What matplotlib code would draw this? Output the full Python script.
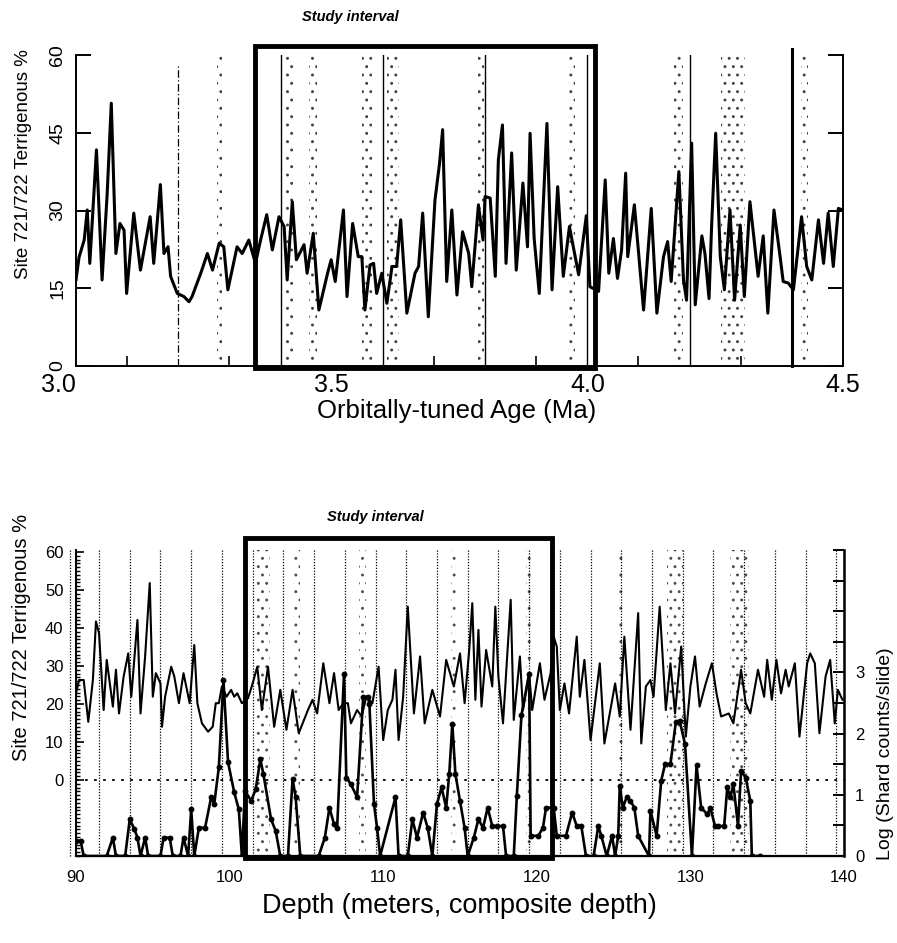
import matplotlib
matplotlib.use('Agg')
import matplotlib.pyplot as plt
import matplotlib.transforms as mtransforms
from matplotlib.patches import Rectangle
import numpy as np

plt.rcParams['font.family'] = ['Liberation Sans', 'DejaVu Sans']
plt.rcParams['hatch.linewidth'] = 0.9

# ---------------- data: top panel (age domain) ----------------
top_age = [3.000, 3.006, 3.016, 3.022, 3.027, 3.040, 3.051, 3.061, 3.069, 3.078,
           3.086, 3.094, 3.099, 3.113, 3.126, 3.145, 3.152, 3.165, 3.172, 3.180,
           3.185, 3.198, 3.211, 3.221, 3.227, 3.244, 3.257, 3.267, 3.280, 3.289,
           3.297, 3.315, 3.325, 3.338, 3.351, 3.361, 3.373, 3.384, 3.397, 3.407,
           3.413, 3.423, 3.431, 3.446, 3.452, 3.464, 3.475, 3.492, 3.499, 3.507,
           3.523, 3.530, 3.541, 3.552, 3.559, 3.565, 3.575, 3.582, 3.588, 3.598,
           3.608, 3.618, 3.627, 3.635, 3.647, 3.663, 3.670, 3.678, 3.689, 3.702,
           3.711, 3.717, 3.725, 3.735, 3.745, 3.756, 3.768, 3.774, 3.787, 3.796,
           3.800, 3.810, 3.820, 3.826, 3.834, 3.841, 3.852, 3.861, 3.874, 3.883,
           3.888, 3.896, 3.906, 3.921, 3.931, 3.942, 3.953, 3.965, 3.983, 3.998,
           4.005, 4.022, 4.035, 4.042, 4.051, 4.059, 4.067, 4.075, 4.079, 4.092,
           4.110, 4.125, 4.136, 4.149, 4.157, 4.164, 4.179, 4.188, 4.194, 4.204,
           4.211, 4.224, 4.230, 4.238, 4.243, 4.251, 4.260, 4.268, 4.279, 4.288,
           4.299, 4.307, 4.318, 4.334, 4.344, 4.353, 4.365, 4.377, 4.383, 4.393,
           4.403, 4.419, 4.429, 4.439, 4.452, 4.462, 4.471, 4.481, 4.491, 4.499]
top_terr = [16.6, 21.0, 24.3, 30.1, 19.8, 41.7, 16.6, 33.3, 50.7, 21.7,
            27.5, 26.2, 14.0, 29.5, 18.5, 28.8, 19.8, 35.0, 21.7, 23.0,
            17.3, 14.0, 13.4, 12.4, 13.4, 17.9, 21.7, 18.5, 23.7, 23.0,
            14.7, 23.0, 21.7, 24.3, 19.8, 24.3, 29.2, 22.4, 28.8, 26.9,
            16.6, 31.7, 20.5, 23.4, 17.9, 25.6, 10.8, 17.9, 20.5, 16.3,
            30.1, 13.4, 27.5, 21.1, 21.1, 10.8, 19.5, 19.8, 14.0, 17.9,
            12.1, 19.2, 19.2, 28.2, 10.2, 17.9, 19.2, 29.5, 9.5, 32.0,
            39.1, 45.6, 16.3, 30.1, 13.7, 25.9, 21.7, 15.3, 31.1, 24.3,
            32.7, 32.4, 17.3, 39.8, 46.5, 19.8, 41.1, 18.5, 35.3, 23.0,
            44.9, 24.6, 14.0, 46.8, 14.7, 34.6, 17.3, 26.9, 17.6, 29.0,
            15.3, 14.4, 35.9, 17.9, 24.6, 16.9, 22.4, 37.2, 21.1, 31.1,
            10.8, 30.4, 10.2, 21.1, 24.0, 16.3, 37.5, 16.6, 12.7, 43.0,
            11.8, 25.1, 21.7, 13.0, 26.9, 44.9, 21.1, 14.7, 30.1, 12.7,
            27.2, 13.4, 31.7, 17.3, 25.1, 10.2, 30.1, 21.1, 16.3, 16.0,
            14.7, 28.8, 19.2, 16.6, 28.2, 19.8, 29.5, 19.2, 30.4, 30.1]
top_xticks = [3.0, 3.5, 4.0, 4.5]
top_xticklabels = ['3.0', '3.5', '4.0', '4.5']
top_yticks = [0, 15, 30, 45, 60]
top_timelines = [3.4, 3.6, 3.8, 4.0, 4.2]
top_tephra = [(3.275, 3.285), (3.408, 3.425), (3.455, 3.472), (3.560, 3.578),
              (3.608, 3.632), (3.786, 3.798), (3.962, 3.975), (4.170, 4.188),
              (4.262, 4.308), (4.418, 4.432)]
top_study = (3.35, 4.015)

# ---------------- data: bottom panel (depth domain) ----------------
bot_depth = [90.0, 90.2, 90.5, 90.8, 91.1, 91.3, 91.5, 91.8, 92.0, 92.4,
             92.6, 92.8, 93.1, 93.4, 93.6, 94.0, 94.2, 94.5, 94.8, 95.0,
             95.2, 95.5, 95.6, 95.8, 96.2, 96.4, 96.7, 97.0, 97.4, 97.7,
             97.9, 98.2, 98.6, 98.9, 99.1, 99.3, 99.5, 99.8, 100.1, 100.3,
             100.5, 100.8, 101.2, 101.5, 101.8, 102.1, 102.5, 102.9, 103.3, 103.7,
             104.1, 104.5, 105.1, 105.4, 105.7, 106.1, 106.5, 106.8, 107.1, 107.4,
             107.7, 107.9, 108.3, 108.6, 108.9, 109.3, 109.7, 110.0, 110.3, 110.6,
             110.8, 111.0, 111.3, 111.6, 112.0, 112.4, 112.7, 113.2, 113.7, 114.1,
             114.6, 115.0, 115.3, 115.6, 115.8, 116.0, 116.2, 116.4, 116.7, 117.1,
             117.3, 117.5, 117.8, 118.3, 118.5, 118.9, 119.1, 119.5, 119.7, 120.2,
             120.5, 120.9, 121.1, 121.3, 121.5, 121.8, 122.1, 122.6, 122.8, 123.1,
             123.5, 124.1, 124.4, 125.1, 125.4, 125.7, 126.1, 126.6, 126.8, 127.1,
             127.4, 127.6, 128.0, 128.4, 128.7, 129.0, 129.4, 129.7, 130.0, 130.3,
             130.6, 131.0, 131.4, 131.7, 132.0, 132.5, 132.8, 133.3, 133.6, 133.9,
             134.4, 134.8, 135.0, 135.3, 135.6, 135.9, 136.2, 136.4, 136.8, 137.1,
             137.6, 137.8, 138.1, 138.4, 138.8, 139.1, 139.4, 139.6, 139.9]
bot_terr = [22.8, 26.3, 26.3, 15.3, 26.3, 41.7, 38.6, 18.4, 31.6, 19.3,
            29.0, 17.5, 27.2, 33.3, 21.9, 42.1, 17.5, 32.5, 51.8, 21.9,
            28.1, 25.4, 14.0, 21.9, 29.8, 27.2, 20.2, 28.1, 20.2, 35.5,
            20.2, 14.9, 12.7, 14.0, 20.2, 20.2, 24.6, 21.9, 23.7, 21.9,
            22.8, 20.2, 21.5, 25.4, 29.8, 18.4, 29.8, 14.0, 23.7, 13.2,
            23.7, 12.3, 18.4, 21.1, 17.5, 30.7, 20.2, 28.1, 18.4, 20.2,
            20.2, 14.9, 18.4, 16.7, 21.9, 20.2, 29.8, 10.5, 18.4, 21.1,
            29.0, 10.5, 21.9, 45.6, 17.5, 32.5, 14.9, 23.7, 16.7, 31.6,
            24.6, 33.3, 20.2, 34.2, 46.5, 21.1, 39.5, 19.3, 34.2, 24.6,
            45.6, 27.2, 14.9, 47.4, 15.8, 32.5, 18.4, 28.1, 18.4, 30.7,
            21.1, 28.1, 37.7, 35.1, 18.4, 25.4, 17.5, 37.7, 21.9, 31.6,
            10.5, 30.7, 9.6, 25.4, 16.7, 37.7, 13.2, 43.9, 9.6, 24.6,
            26.3, 21.9, 45.6, 18.4, 30.7, 17.5, 35.1, 11.4, 24.6, 32.5,
            19.3, 25.4, 30.7, 22.8, 16.7, 17.5, 14.9, 29.0, 20.2, 17.5,
            29.0, 21.9, 31.6, 21.1, 31.6, 22.8, 29.0, 24.6, 30.7, 11.4,
            30.7, 33.3, 30.7, 12.3, 27.2, 31.6, 14.9, 23.7, 21.1]

shard_depth = [90.0, 90.3, 90.5, 92.0, 92.4, 92.6, 93.2, 93.5, 93.8, 94.0,
               94.2, 94.5, 94.7, 95.5, 95.7, 96.1, 96.3, 96.8, 97.0, 97.3,
               97.5, 97.7, 98.0, 98.4, 98.8, 99.0, 99.3, 99.6, 99.9, 100.3,
               100.6, 100.8, 101.0, 101.4, 101.7, 102.0, 102.2, 102.7, 103.0, 103.3,
               103.8, 104.1, 104.3, 104.6, 105.8, 106.2, 106.5, 106.8, 107.0, 107.45,
               107.6, 107.9, 108.3, 108.7, 109.0, 109.1, 109.4, 109.6, 109.8,
               110.8, 111.0, 111.6, 111.9, 112.2, 112.6, 112.9, 113.2, 113.5, 113.8,
               114.1, 114.3, 114.5, 114.7, 115.0, 115.3, 115.5, 115.9, 116.2, 116.5,
               116.8, 117.1, 117.4, 117.8, 118.0, 118.5, 118.7, 119.0, 119.5, 119.6,
               120.1, 120.4, 120.6, 121.1, 121.3, 121.9, 122.3, 122.6, 122.9, 123.2,
               123.7, 124.0, 124.2, 124.55, 124.9, 125.1, 125.3, 125.4, 125.6, 125.85,
               126.1, 126.35, 126.6, 127.3, 127.4, 127.8, 128.1, 128.35, 128.7, 129.05,
               129.3, 129.65, 130.1, 130.4, 130.7, 131.1, 131.3, 131.6, 131.8, 132.2,
               132.4, 132.6, 132.8, 133.1, 133.3, 133.6, 133.9, 134.0, 134.5]
shard_log = [0.25, 0.25, 0, 0, 0.3, 0, 0, 0.6, 0.44, 0.3,
             0, 0.3, 0, 0, 0.3, 0.3, 0, 0, 0.3, 0,
             0.76, 0, 0.46, 0.46, 0.96, 0.85, 1.45, 2.87, 1.53, 1.04,
             0.76, 0, 1.07, 0.9, 1.09, 1.58, 1.34, 0.6, 0.41, 0,
             0, 1.26, 0.96, 0, 0, 0.3, 0.79, 0.52, 0.45, 2.98,
             1.28, 1.17, 0.96, 2.6, 2.6, 2.49, 0.85, 0.46, 0,
             0.96, 0, 0, 0.6, 0.3, 0.71, 0.46, 0, 0.85, 1.12,
             0.79, 1.34, 2.16, 1.34, 0.9, 0.46, 0, 0.3, 0.6, 0.46,
             0.79, 0.49, 0.49, 0.49, 0, 0, 0.98, 2.3, 2.98, 0.33,
             0.33, 0.46, 0.79, 0.79, 0.33, 0.33, 0.71, 0.49, 0.49, 0,
             0, 0.49, 0.33, 0, 0.33, 0, 0.33, 1.15, 0.79, 0.96,
             0.9, 0.79, 0.33, 0, 0.74, 0.33, 1.23, 1.5, 1.5, 2.19,
             2.21, 1.83, 0, 1.48, 0.79, 0.68, 0.79, 0.49, 0.49, 0.49,
             1.12, 0.96, 1.17, 0.49, 1.39, 1.28, 0.9, 0, 0]
bot_xticks = [90, 100, 110, 120, 130, 140]
bot_yticks = [0, 10, 20, 30, 40, 50, 60]
shard_ticks = [0, 0.5, 1, 1.5, 2, 2.5, 3, 3.5, 4, 4.5, 5]
shard_ticklabels = ['0', '', '1', '', '2', '', '3', '', '', '', '']
bot_gridlines = list(np.arange(91.5, 140.0, 2.0))
bot_tephra = [(101.7, 102.6), (104.1, 104.6), (108.4, 108.9), (114.4, 114.8),
              (119.3, 119.6), (125.3, 125.6), (128.5, 129.5), (132.6, 133.8)]
bot_study = (101.0, 121.0)

# ---------------- figure ----------------
W, H = 897, 943
fig = plt.figure(figsize=(W / 100, H / 100), dpi=100)


def rect(x0, y0, x1, y1):
    return [x0 / W, 1 - y1 / H, (x1 - x0) / W, (y1 - y0) / H]


# ===== top panel =====
ax1 = fig.add_axes(rect(76, 55, 843, 366))
ax1.set_xlim(3.0, 4.5)
ax1.set_ylim(0, 60)
for a0, a1 in top_tephra:
    ax1.axvspan(a0, a1, ymin=0, ymax=1.0, facecolor='none', edgecolor='0.25',
                hatch='..', lw=0, zorder=1)
ax1.axvline(3.2, ymin=0, ymax=0.97, color='k', lw=0.9, ls=(0, (6, 2, 1, 2)), zorder=2)
for t in top_timelines:
    ax1.axvline(t, ymin=0, ymax=1.0, color='k', lw=1.0, zorder=2)
ax1.axvline(4.4, ymin=0, ymax=1.02, color='k', lw=2.2, zorder=2, clip_on=False)
ax1.plot(top_age, top_terr, color='k', lw=2.2, zorder=3)
ax1.add_patch(Rectangle((top_study[0], -0.4), top_study[1] - top_study[0], 62.1,
                        fill=False, lw=3.5, edgecolor='k', clip_on=False, zorder=4))
ax1.spines['top'].set_visible(False)
for s in ['left', 'right', 'bottom']:
    ax1.spines[s].set_linewidth(1.4)
ax1.set_xticks(top_xticks)
ax1.set_xticklabels(top_xticklabels, fontsize=18)
ax1.set_xticks(np.arange(3.1, 4.4, 0.2), minor=True)
ax1.tick_params(axis='x', which='major', length=0, pad=5)
ax1.tick_params(axis='x', which='minor', direction='in', length=7, width=1.2)
# the printed "3.0" label sits slightly left of the axis origin
first = ax1.get_xticklabels()[0]
first.set_transform(first.get_transform() +
                    mtransforms.ScaledTranslation(-0.18, 0, fig.dpi_scale_trans))
ax1.set_yticks(top_yticks)
ax1.tick_params(axis='y', which='major', direction='in', length=11, width=1.4,
                left=True, right=True, labelsize=14, pad=7)
for lab in ax1.get_yticklabels():
    lab.set_rotation(90)
    lab.set_va('center')
fig.text(24 / W, 1 - 164 / H, 'Site 721/722 Terrigenous %', rotation=90,
         ha='center', va='center', fontsize=13.5)
fig.text(457 / W, 1 - 411 / H, 'Orbitally-tuned Age (Ma)', ha='center', va='center',
         fontsize=18.5)
fig.text(350 / W, 1 - 17 / H, 'Study interval', ha='center', va='center',
         fontsize=10.5, style='italic', weight='bold')

# ===== bottom panel =====
ax3 = fig.add_axes(rect(76, 550, 844, 856))
ax3.set_xlim(90, 140)
ax3.set_ylim(-20, 60.5)
ax4 = ax3.twinx()
ax4.set_ylim(0, 5.0)
for d0, d1 in bot_tephra:
    ax3.axvspan(d0, d1, facecolor='none', edgecolor='0.3', hatch='..', lw=0, zorder=1)
for g in bot_gridlines:
    ax3.axvline(g, color='k', lw=0.9, ls=(0, (1, 1.3)), zorder=2)
ax3.axvline(89.6, color='k', lw=0.9, ls=(0, (1, 1.3)), zorder=2, clip_on=False)
ax3.axhline(0, color='k', lw=1.3, ls=(0, (1.5, 3.5)), zorder=2)
ax3.plot(bot_depth, bot_terr, color='k', lw=1.5, zorder=3)
ax4.plot(shard_depth, shard_log, color='k', lw=1.9, marker='o', ms=3.2, zorder=4)
ax3.add_patch(Rectangle((bot_study[0], -20.5), bot_study[1] - bot_study[0], 84.2,
                        fill=False, lw=3.5, edgecolor='k', clip_on=False, zorder=5))
for a in (ax3, ax4):
    a.spines['top'].set_visible(False)
ax3.spines['left'].set_linewidth(1.4)
ax3.spines['bottom'].set_linewidth(1.6)
ax4.spines['right'].set_linewidth(1.8)
ax3.set_xticks(bot_xticks)
ax3.set_xticklabels([str(v) for v in bot_xticks], fontsize=12)
ax3.tick_params(axis='x', length=0, pad=10)
ax3.set_yticks(bot_yticks)
ax3.set_yticklabels([str(v) for v in bot_yticks], fontsize=12)
ax3.set_yticks(np.arange(-20, 61, 1), minor=True)
ax3.tick_params(axis='y', which='major', direction='in', length=6, width=1.2, pad=9)
ax3.tick_params(axis='y', which='minor', direction='in', length=3, width=1.0)
ax4.set_yticks(shard_ticks)
ax4.set_yticklabels(shard_ticklabels, fontsize=12)
ax4.tick_params(axis='y', direction='in', length=8, width=1.4, pad=8)
ax4.set_zorder(ax3.get_zorder() + 1)
ax4.patch.set_visible(False)
fig.text(22 / W, 1 - 637 / H, 'Site 721/722 Terrigenous %', rotation=90,
         ha='center', va='center', fontsize=14.5)
fig.text(885 / W, 1 - 754 / H, 'Log (Shard counts/slide)', rotation=90,
         ha='center', va='center', fontsize=14)
fig.text(459 / W, 1 - 906 / H, 'Depth (meters, composite depth)', ha='center',
         va='center', fontsize=19.5)
fig.text(375 / W, 1 - 517 / H, 'Study interval', ha='center', va='center',
         fontsize=10.5, style='italic', weight='bold')

fig.savefig('out.png', dpi=100)
